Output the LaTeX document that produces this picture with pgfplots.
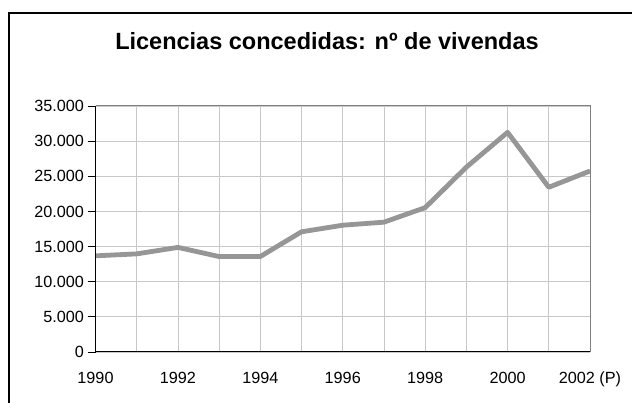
\documentclass[border=0pt]{standalone}
\usepackage{pgfplots}
\pgfplotsset{compat=1.18}
\usepackage{fontspec}
\setmainfont{Liberation Sans}
\definecolor{linegray}{HTML}{969696}
\definecolor{gridgray}{HTML}{C8C8C8}
\begin{document}
\begin{tikzpicture}[x=1pt,y=1pt]
\useasboundingbox (0,0) rectangle (632,403);
\fill[white] (0,0) rectangle (632,403);
\draw[black, line width=1.8pt] (9,0) -- (9,390) -- (632,390);
\node[font=\fontsize{23.5}{26}\selectfont\bfseries, anchor=base, inner sep=0pt] at (327,353) {Licencias concedidas: nº de vivendas};
\begin{axis}[
  at={(95.5pt,51pt)}, anchor=south west,
  scale only axis, width=494.5pt, height=246pt,
  xmin=1990, xmax=2002, ymin=0, ymax=35000,
  xtick={1990,1992,...,2002},
  xticklabels={1990,1992,1994,1996,1998,2000,2002 (P)},
  minor xtick={1991,1993,...,2001},
  ytick={0,5000,...,35000},
  grid=both,
  major grid style={gridgray, line width=0.8pt},
  minor grid style={gridgray, line width=0.8pt},
  axis line style={draw=none},
  x tick style={draw=none},
  y tick style={black, line width=0.8pt},
  tick align=outside,
  major tick length=8pt,
  minor tick length=0pt,
  ytick pos=left, xtick pos=bottom,
  tick label style={font=\fontsize{16.2}{18}\selectfont},
  /pgf/number format/assume math mode=true,
  /pgf/number format/.cd, fixed, 1000 sep={.},
  /pgfplots/.cd,
  scaled y ticks=false,
  xticklabel style={yshift=-8pt, text height=12pt, text depth=3.5pt},
  clip=false,
]
\addplot[linegray, line width=4.8pt, line join=round] coordinates {
(1990,13680) (1991,13960) (1992,14880) (1993,13580) (1994,13580)
(1995,17100) (1996,18040) (1997,18470) (1998,20540) (1999,26300)
(2000,31250) (2001,23440) (2002,25750)
};
\draw[gray, line width=1pt] (axis cs:1990,35000) -- (axis cs:2002,35000) -- (axis cs:2002,0);
\draw[black, line width=1pt] (axis cs:1990,35000) -- (axis cs:1990,0) -- (axis cs:2002,0);
\end{axis}
\end{tikzpicture}
\end{document}
